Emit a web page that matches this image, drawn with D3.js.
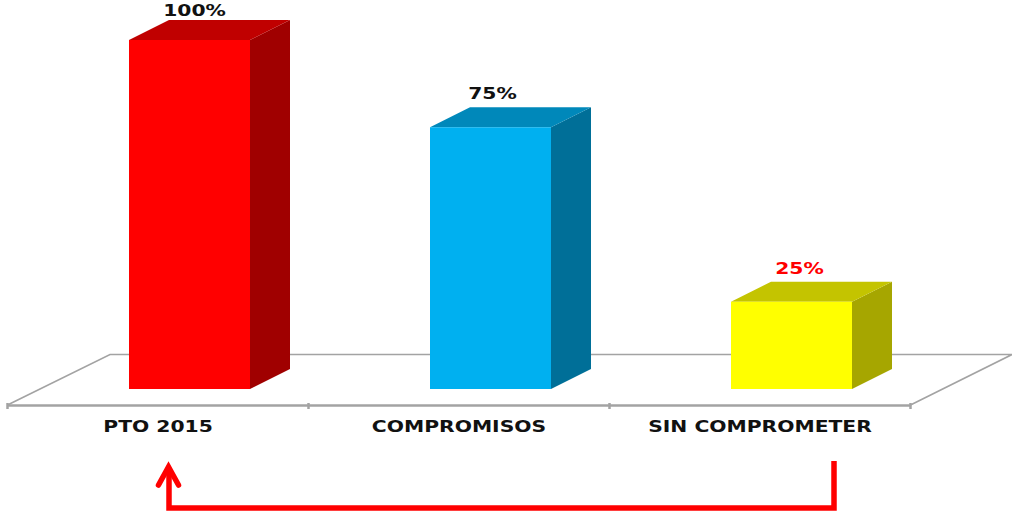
<!DOCTYPE html>
<html>
<head>
<meta charset="utf-8">
<script src="https://cdn.jsdelivr.net/npm/d3@7"></script>
<style>
    html, body { margin: 0; padding: 0; background: #fff; overflow: hidden; }
    svg { display: block; }
    text { font-family: "DejaVu Sans", sans-serif; font-weight: bold; }
</style>
</head>
<body>
<svg id="chart"></svg>
<script>
const categories = ["PTO 2015", "COMPROMISOS", "SIN COMPROMETER"];
const values = [100, 75, 25];
const valueLabels = ["100%", "75%", "25%"];

const frontColors = ["#ff0000", "#00b0f0", "#ffff00"];
const topColors = ["#c00000", "#0088ba", "#c4c400"];
const sideColors = ["#a00000", "#006f98", "#a6a600"];
const labelColors = ["#111111", "#111111", "#ff0000"];
const labelShifts = [5, 2, 8]; // value labels are not quite centred on the bars

const width = 1012;
const height = 512;

// 3D offset of the chart box
const depthX = 40;
const depthY = 20;
const axisY = 405;
const baseY = 389;
const barWidth = 121;
const barShift = 31.5; // bars sit further back than the axis
const textStretch = 1.31; // the picture is stretched sideways, so is its text

const svg = d3.select("#chart")
    .attr("width", width)
    .attr("height", height);

const x = d3.scaleBand()
    .domain(categories)
    .range([7.5, 910.5]);

const y = d3.scaleLinear()
    .domain([0, 100])
    .range([baseY, 40]);

// Floor
const floorColor = "#a3a3a3";
svg.append("path")
    .attr("d", `M7.5,${axisY} L110,354.5 L1012,354.5 L910.5,${axisY}`)
    .attr("fill", "none")
    .attr("stroke", floorColor)
    .attr("stroke-width", 1.6);

// Axis
const axis = svg.append("g")
    .attr("transform", `translate(0,${axisY})`)
    .call(d3.axisBottom(x).tickSize(0).tickPadding(0));
axis.select(".domain")
    .attr("stroke", floorColor)
    .attr("stroke-width", 2.5);
axis.selectAll(".tick text")
    .attr("y", 0)
    .attr("dy", 0)
    .attr("fill", "#111")
    .attr("transform", `translate(0,27) scale(${textStretch},1)`)
    .style("font-size", "15.5px");

// Tick marks sit on the band edges
const edges = categories.map(c => x(c)).concat([x.range()[1]]);
axis.selectAll(".edge")
    .data(edges)
    .join("line")
    .attr("class", "edge")
    .attr("x1", d => d)
    .attr("x2", d => d)
    .attr("y1", -2)
    .attr("y2", 4)
    .attr("stroke", floorColor)
    .attr("stroke-width", 2.5);

// Bars
const bars = svg.selectAll(".bar")
    .data(values)
    .join("g")
    .attr("class", "bar")
    .attr("transform", (d, i) => `translate(${x(categories[i]) + barShift + (x.bandwidth() - barWidth) / 2},0)`);

bars.append("path")
    .attr("fill", (d, i) => sideColors[i])
    .attr("d", d => `M${barWidth},${y(d)} L${barWidth + depthX},${y(d) - depthY} L${barWidth + depthX},${baseY - depthY} L${barWidth},${baseY} Z`);

bars.append("path")
    .attr("fill", (d, i) => topColors[i])
    .attr("d", d => `M0,${y(d)} L${depthX},${y(d) - depthY} L${barWidth + depthX},${y(d) - depthY} L${barWidth},${y(d)} Z`);

bars.append("rect")
    .attr("x", 0)
    .attr("y", d => y(d))
    .attr("width", barWidth)
    .attr("height", d => baseY - y(d))
    .attr("fill", (d, i) => frontColors[i]);

// Labels float above the top face, the tallest one is pushed down to stay on the page
bars.append("text")
    .attr("text-anchor", "middle")
    .attr("transform", (d, i) => `translate(${barWidth / 2 + labelShifts[i]},${Math.max(y(d) - 28, 16)}) scale(${textStretch},1)`)
    .attr("fill", (d, i) => labelColors[i])
    .style("font-size", "15.5px")
    .text((d, i) => valueLabels[i]);

// Arrow from the last category back to the first
svg.append("path")
    .attr("d", "M834,461 L834,508 L169,508 L169,470")
    .attr("fill", "none")
    .attr("stroke", "#ff0000")
    .attr("stroke-width", 5.5);
svg.append("path")
    .attr("d", "M158.5,485 L168.5,467 L178.5,485")
    .attr("fill", "none")
    .attr("stroke", "#ff0000")
    .attr("stroke-width", 5.5)
    .attr("stroke-linecap", "round");
</script>
</body>
</html>
